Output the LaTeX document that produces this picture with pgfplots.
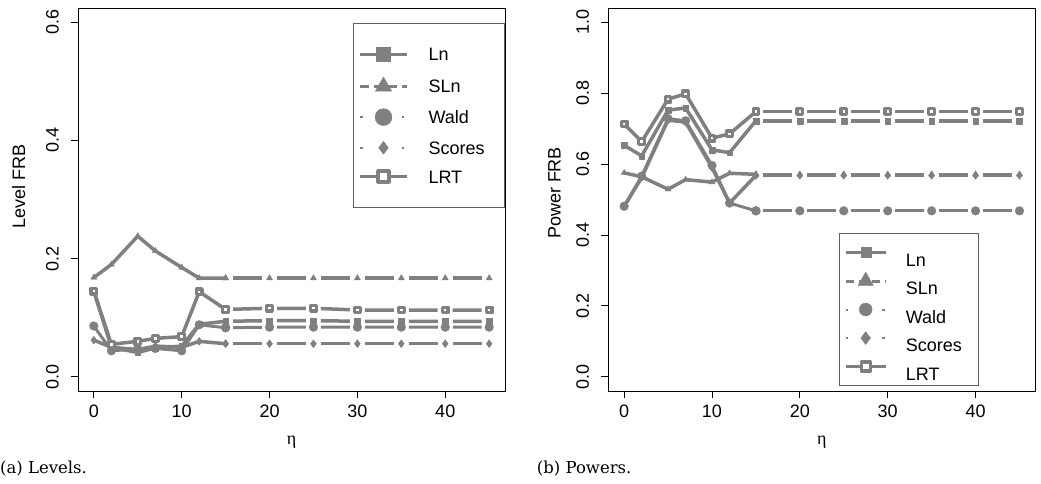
\documentclass[border=0pt]{standalone}
\usepackage{pgfplots}
\pgfplotsset{compat=1.18}
\usepackage{pgfplotstable}
\usepackage{fontspec}
\setmainfont{Liberation Sans}
\newfontfamily\capfont{DejaVu Serif}
\newfontfamily\etafont{Liberation Serif}
\definecolor{lg}{HTML}{808080}
\definecolor{lbox}{HTML}{606060}

\pgfplotstableread{
x  Ln    SLn   Wald  Scores LRT
0  0.145 0.168 0.086 0.062 0.145
2  0.050 0.190 0.044 0.050 0.055
5  0.041 0.238 0.047 0.046 0.060
7  0.049 0.213 0.048 0.052 0.065
10 0.052 0.185 0.044 0.050 0.068
12 0.089 0.167 0.088 0.060 0.144
15 0.094 0.167 0.083 0.056 0.114
20 0.095 0.167 0.084 0.056 0.116
25 0.095 0.167 0.084 0.056 0.116
30 0.094 0.167 0.084 0.056 0.113
35 0.094 0.167 0.084 0.056 0.113
40 0.094 0.167 0.084 0.056 0.113
45 0.094 0.167 0.084 0.056 0.113
}\levels

\pgfplotstableread{
x  Ln    SLn   Wald  Scores LRT
0  0.653 0.575 0.481 0.480 0.713
2  0.623 0.564 0.566 0.562 0.663
5  0.752 0.529 0.728 0.724 0.783
7  0.758 0.556 0.722 0.718 0.798
10 0.640 0.549 0.596 0.590 0.673
12 0.632 0.574 0.490 0.490 0.685
15 0.722 0.571 0.468 0.568 0.748
20 0.722 0.571 0.468 0.568 0.748
25 0.722 0.571 0.468 0.568 0.748
30 0.722 0.571 0.468 0.568 0.748
35 0.722 0.571 0.468 0.568 0.748
40 0.722 0.571 0.468 0.568 0.748
45 0.722 0.571 0.468 0.568 0.748
}\powers

\newcommand{\bigf}{\fontsize{18}{20}\selectfont}

\pgfplotsset{
  base/.style={lg, line width=3.5pt, line join=round},
  flat/.style={dash pattern=on 28.93pt off 15pt, dash phase=36.43pt},
  sLn/.style={base, mark=square*, mark size=2.9pt, mark options={solid, line width=0.3pt}},
  sSLn/.style={base, mark=triangle*, mark size=3.6pt, mark options={solid, line width=0.3pt}},
  sWald/.style={base, line width=3pt, mark=*, mark size=4.4pt, mark options={solid, line width=0.3pt}},
  sScores/.style={base, mark=diamond*, mark size=4pt, mark options={solid, line width=0.3pt}},
  sLRT/.style={base, mark=square*, mark size=2.8pt, mark options={solid, fill=white, line width=3.2pt}},
  myaxis/.style={
    scale only axis, width=427pt, height=383pt,
    anchor=south west,
    xmin=-1.8, xmax=46.8,
    xtick={0,10,20,30,40},
    tick pos=left, tick align=outside,
    major tick length=7pt,
    tick style={black, line width=0.8pt},
    axis line style={black, line width=0.9pt},
    /pgf/number format/assume math mode=true,
    xticklabel style={font=\bigf, inner sep=0pt, anchor=north},
    yticklabel style={font=\bigf, inner sep=0pt, rotate=90, anchor=south,
      /pgf/number format/fixed, /pgf/number format/fixed zerofill,
      /pgf/number format/precision=1},
    xticklabel shift=7pt,
    yticklabel shift=12pt,
    xlabel={\etafont η},
    xlabel style={at={(axis description cs:0.5,0)}, anchor=base, yshift=-54pt, font=\bigf},
    legend cell align=left,
  },
}

\begin{document}
\begin{tikzpicture}[x=1pt,y=1pt]
\path[use as bounding box] (0,0) rectangle (1041,484);

% ---------------- (a) Levels
\begin{axis}[myaxis, at={(78pt,93pt)},
  ymin=-0.024, ymax=0.624, ytick={0,0.2,0.4,0.6},
  ylabel={Level FRB},
  ylabel style={at={(axis description cs:-0.139,0.535)}, anchor=center, font=\bigf},
  legend style={at={(axis description cs:1,0.9616)}, anchor=north east,
    draw=lbox, line width=1pt, fill=white, inner xsep=5pt, inner ysep=24pt,
    row sep=15.7pt, font=\bigf,
    nodes={inner sep=0pt, text height=13pt, text depth=0pt},
    /tikz/every odd column/.append style={column sep=20pt}},
  legend image code/.code={\draw[mark repeat=2, mark phase=2] plot coordinates {(0pt,0pt) (23.5pt,0pt) (47pt,0pt)};},
]
\addplot[sLn, restrict x to domain=0:15, legend image post style={line width=3pt, mark size=7pt}] table[x=x,y=Ln] {\levels};
\addlegendentry{\makebox[71pt][l]{Ln}}
\addplot[sLn, flat, restrict x to domain=15:45, forget plot] table[x=x,y=Ln] {\levels};
\addplot[sSLn, restrict x to domain=0:15, legend image post style={line width=3pt, dash pattern=on 9pt off 5pt, mark size=9.5pt}] table[x=x,y=SLn] {\levels};
\addlegendentry{\makebox[71pt][l]{SLn}}
\addplot[sSLn, flat, restrict x to domain=15:45, forget plot] table[x=x,y=SLn] {\levels};
\addplot[sWald, restrict x to domain=0:15, legend image post style={line width=2pt, dash pattern=on 2.5pt off 39pt, mark size=8.5pt}] table[x=x,y=Wald] {\levels};
\addlegendentry{\makebox[71pt][l]{Wald}}
\addplot[sWald, flat, restrict x to domain=15:45, forget plot] table[x=x,y=Wald] {\levels};
\addplot[sScores, restrict x to domain=0:15, legend image post style={line width=2pt, dash pattern=on 2.5pt off 39pt, mark size=6.5pt}] table[x=x,y=Scores] {\levels};
\addlegendentry{\makebox[71pt][l]{Scores}}
\addplot[sScores, flat, restrict x to domain=15:45, forget plot] table[x=x,y=Scores] {\levels};
\addplot[sLRT, restrict x to domain=0:15, legend image post style={line width=3pt, mark size=5.5pt}] table[x=x,y=LRT] {\levels};
\addlegendentry{\makebox[71pt][l]{LRT}}
\addplot[sLRT, flat, restrict x to domain=15:45, forget plot] table[x=x,y=LRT] {\levels};
\end{axis}

% ---------------- (b) Powers
\begin{axis}[myaxis, at={(608.3pt,93pt)},
  ymin=-0.04, ymax=1.04, ytick={0,0.2,0.4,0.6,0.8,1.0},
  ylabel={Power FRB},
  ylabel style={at={(axis description cs:-0.126,0.517)}, anchor=center, font=\bigf},
  legend style={at={(axis description cs:0.869,0.013)}, anchor=south east,
    draw=lbox, line width=1pt, fill=white, inner xsep=5pt, inner ysep=5pt,
    row sep=0.5pt, font=\bigf,
    nodes={inner sep=0pt, text height=27.5pt, text depth=0.5pt},
    /tikz/every odd column/.append style={column sep=18.7pt}},
  legend image code/.code={\draw[mark repeat=2, mark phase=2] plot coordinates {(0pt,0pt) (20pt,0pt) (40pt,0pt)};},
]
\addplot[sLn, restrict x to domain=0:15, legend image post style={line width=3pt, mark size=5pt}] table[x=x,y=Ln] {\powers};
\addlegendentry{\makebox[68pt][l]{Ln}}
\addplot[sLn, flat, restrict x to domain=15:45, forget plot] table[x=x,y=Ln] {\powers};
\addplot[sSLn, restrict x to domain=0:15, legend image post style={line width=3pt, dash pattern=on 8pt off 5pt, mark size=9pt}] table[x=x,y=SLn] {\powers};
\addlegendentry{\makebox[68pt][l]{SLn}}
\addplot[sSLn, flat, restrict x to domain=15:45, forget plot] table[x=x,y=SLn] {\powers};
\addplot[sWald, restrict x to domain=0:15, legend image post style={line width=2pt, dash pattern=on 2.5pt off 34pt, mark size=6.5pt}] table[x=x,y=Wald] {\powers};
\addlegendentry{\makebox[68pt][l]{Wald}}
\addplot[sWald, flat, restrict x to domain=15:45, forget plot] table[x=x,y=Wald] {\powers};
\addplot[sScores, restrict x to domain=0:15, legend image post style={line width=2pt, dash pattern=on 2.5pt off 34pt, mark size=6.5pt}] table[x=x,y=Scores] {\powers};
\addlegendentry{\makebox[68pt][l]{Scores}}
\addplot[sScores, flat, restrict x to domain=15:45, forget plot] table[x=x,y=Scores] {\powers};
\addplot[sLRT, restrict x to domain=0:15, legend image post style={line width=3pt, mark size=4.5pt}] table[x=x,y=LRT] {\powers};
\addlegendentry{\makebox[68pt][l]{LRT}}
\addplot[sLRT, flat, restrict x to domain=15:45, forget plot] table[x=x,y=LRT] {\powers};
\end{axis}

\node[anchor=base west, inner sep=0pt, font=\capfont\fontsize{16.5}{19}\selectfont] at (0,10) {(a) Levels.};
\node[anchor=base west, inner sep=0pt, font=\capfont\fontsize{16.5}{19}\selectfont] at (536.7,10) {(b) Powers.};
\end{tikzpicture}
\end{document}
